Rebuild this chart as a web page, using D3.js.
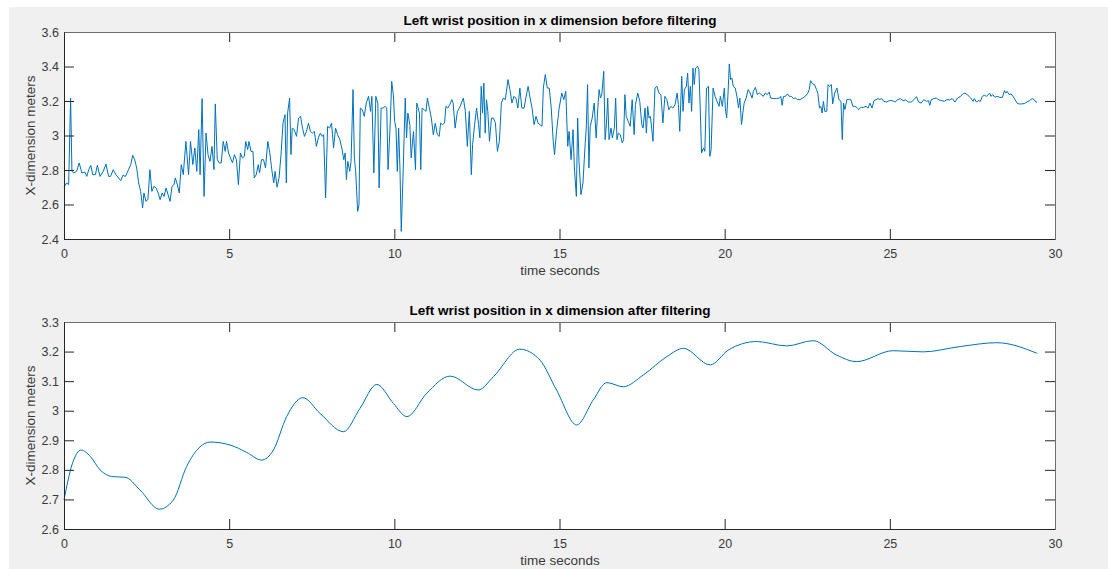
<!DOCTYPE html>
<html>
<head>
<meta charset="utf-8">
<script src="https://cdn.jsdelivr.net/npm/d3@7"></script>
<style>
  body { margin: 0; background: #fff; }
  svg { display: block; font-family: "Liberation Sans", Arial, sans-serif; }
  .tick text { fill: #3a3a3a; font-size: 12.5px; }
  .tick line { stroke: #262626; }
</style>
</head>
<body>
<div id="chart"></div>
<script>
// raw wrist position (seconds, meters)
const rawTime = [0.00, 0.08, 0.14, 0.20, 0.24, 0.30, 0.38, 0.46, 0.54, 0.63, 0.69, 0.75, 0.81, 0.87, 0.95, 1.01, 1.09, 1.19, 1.27, 1.35,
  1.41, 1.49, 1.57, 1.65, 1.72, 1.78, 1.86, 1.94, 2.02, 2.08, 2.14, 2.20, 2.26, 2.32, 2.38, 2.42, 2.48, 2.54, 2.60, 2.66,
  2.72, 2.79, 2.85, 2.91, 2.97, 3.03, 3.09, 3.15, 3.21, 3.27, 3.33, 3.37, 3.43, 3.49, 3.55, 3.61, 3.69, 3.77, 3.83, 3.90,
  3.96, 4.02, 4.08, 4.12, 4.18, 4.24, 4.30, 4.36, 4.42, 4.48, 4.54, 4.58, 4.64, 4.70, 4.76, 4.82, 4.88, 4.92, 4.98, 5.04,
  5.10, 5.16, 5.22, 5.28, 5.34, 5.40, 5.46, 5.50, 5.56, 5.60, 5.66, 5.72, 5.76, 5.82, 5.88, 5.92, 5.98, 6.04, 6.10, 6.17,
  6.23, 6.29, 6.35, 6.39, 6.45, 6.51, 6.57, 6.63, 6.69, 6.73, 6.77, 6.83, 6.87, 6.91, 6.97, 7.04, 7.10, 7.16, 7.22, 7.28,
  7.34, 7.40, 7.46, 7.52, 7.58, 7.64, 7.70, 7.76, 7.82, 7.86, 7.92, 7.98, 8.04, 8.10, 8.16, 8.22, 8.28, 8.35, 8.41, 8.47,
  8.51, 8.55, 8.59, 8.65, 8.69, 8.75, 8.79, 8.83, 8.89, 8.93, 8.97, 9.03, 9.09, 9.15, 9.22, 9.28, 9.32, 9.38, 9.44, 9.50,
  9.54, 9.60, 9.66, 9.72, 9.77, 9.81, 9.87, 9.92, 9.97, 10.01, 10.05, 10.09, 10.13, 10.17, 10.21, 10.27, 10.33, 10.37, 10.41, 10.47,
  10.51, 10.58, 10.64, 10.68, 10.72, 10.76, 10.80, 10.84, 10.90, 10.96, 11.00, 11.06, 11.12, 11.18, 11.24, 11.30, 11.36, 11.40, 11.46, 11.52,
  11.56, 11.62, 11.68, 11.74, 11.78, 11.84, 11.91, 11.97, 12.03, 12.09, 12.15, 12.21, 12.27, 12.33, 12.37, 12.43, 12.49, 12.55, 12.59, 12.63,
  12.67, 12.71, 12.75, 12.79, 12.83, 12.88, 12.94, 13.00, 13.06, 13.12, 13.18, 13.24, 13.30, 13.36, 13.44, 13.50, 13.56, 13.62, 13.68, 13.74,
  13.80, 13.86, 13.93, 13.99, 14.05, 14.11, 14.17, 14.23, 14.29, 14.35, 14.41, 14.47, 14.51, 14.57, 14.63, 14.69, 14.75, 14.81, 14.85, 14.91,
  14.99, 15.07, 15.13, 15.19, 15.25, 15.29, 15.35, 15.41, 15.45, 15.51, 15.55, 15.59, 15.65, 15.71, 15.77, 15.81, 15.85, 15.89, 15.93, 15.99,
  16.05, 16.11, 16.16, 16.20, 16.24, 16.28, 16.34, 16.38, 16.42, 16.46, 16.50, 16.56, 16.60, 16.66, 16.70, 16.74, 16.78, 16.84, 16.90, 16.94,
  16.98, 17.02, 17.08, 17.14, 17.20, 17.26, 17.30, 17.37, 17.43, 17.49, 17.53, 17.59, 17.63, 17.67, 17.71, 17.75, 17.79, 17.83, 17.89, 17.95,
  18.01, 18.07, 18.13, 18.19, 18.25, 18.31, 18.37, 18.43, 18.50, 18.56, 18.60, 18.64, 18.70, 18.74, 18.78, 18.84, 18.88, 18.92, 18.96, 19.00,
  19.04, 19.08, 19.12, 19.18, 19.22, 19.26, 19.30, 19.36, 19.40, 19.45, 19.51, 19.55, 19.59, 19.65, 19.71, 19.77, 19.83, 19.87, 19.93, 19.99,
  20.02, 20.06, 20.10, 20.14, 20.18, 20.22, 20.26, 20.32, 20.38, 20.42, 20.46, 20.51, 20.55, 20.59, 20.65, 20.71, 20.77, 20.83, 20.87, 20.93,
  20.99, 21.05, 21.11, 21.17, 21.23, 21.29, 21.35, 21.39, 21.47, 21.57, 21.66, 21.70, 21.74, 21.78, 21.84, 21.90, 21.96, 22.02, 22.08, 22.14,
  22.20, 22.28, 22.36, 22.44, 22.52, 22.56, 22.60, 22.66, 22.72, 22.78, 22.82, 22.87, 22.91, 22.95, 22.99, 23.03, 23.09, 23.13, 23.17, 23.23,
  23.27, 23.33, 23.40, 23.46, 23.52, 23.56, 23.60, 23.64, 23.70, 23.76, 23.82, 23.88, 23.94, 24.00, 24.06, 24.12, 24.20, 24.28, 24.34, 24.40,
  24.46, 24.52, 24.58, 24.64, 24.70, 24.76, 24.82, 24.90, 24.98, 25.08, 25.16, 25.24, 25.32, 25.40, 25.48, 25.56, 25.65, 25.73, 25.81, 25.87,
  25.95, 26.03, 26.11, 26.17, 26.21, 26.25, 26.33, 26.41, 26.49, 26.57, 26.65, 26.73, 26.81, 26.89, 26.97, 27.05, 27.13, 27.21, 27.27, 27.34,
  27.40, 27.46, 27.52, 27.56, 27.62, 27.68, 27.74, 27.80, 27.86, 27.92, 27.98, 28.02, 28.06, 28.12, 28.18, 28.24, 28.33, 28.41, 28.47, 28.51,
  28.55, 28.61, 28.67, 28.73, 28.79, 28.85, 28.91, 28.99, 29.07, 29.15, 29.23, 29.31, 29.37, 29.42, 29.46]

const rawPos = [2.700, 2.725, 2.715, 3.217, 2.792, 2.783, 2.792, 2.841, 2.783, 2.788, 2.763, 2.802, 2.827, 2.773, 2.773, 2.827, 2.763, 2.792, 2.835, 2.763,
  2.763, 2.802, 2.773, 2.754, 2.738, 2.769, 2.763, 2.796, 2.831, 2.885, 2.860, 2.812, 2.725, 2.676, 2.580, 2.667, 2.618, 2.628, 2.802, 2.676,
  2.705, 2.696, 2.667, 2.628, 2.667, 2.647, 2.696, 2.657, 2.618, 2.705, 2.715, 2.754, 2.715, 2.667, 2.831, 2.773, 2.966, 2.773, 2.966, 2.831,
  2.928, 2.792, 3.034, 2.773, 3.214, 2.647, 3.014, 2.889, 2.850, 2.937, 2.802, 3.183, 2.860, 2.841, 2.841, 2.966, 2.908, 2.966, 2.899, 2.870,
  2.841, 2.889, 2.860, 2.715, 2.899, 2.870, 2.879, 2.966, 2.918, 2.966, 2.908, 2.908, 2.754, 2.773, 2.831, 2.783, 2.860, 2.860, 2.812, 2.966,
  2.899, 2.802, 2.725, 2.792, 2.700, 2.754, 2.889, 3.072, 3.121, 2.725, 3.130, 3.217, 2.889, 3.043, 3.034, 2.995, 3.101, 3.111, 3.043, 2.995,
  3.024, 3.072, 3.024, 3.014, 3.024, 2.937, 2.986, 3.014, 2.995, 3.005, 2.638, 3.053, 3.043, 3.072, 2.928, 3.043, 3.005, 2.976, 2.928, 2.860,
  2.899, 2.744, 2.850, 2.792, 2.850, 3.266, 2.870, 2.792, 2.560, 2.599, 3.159, 3.150, 3.111, 3.188, 3.227, 3.140, 3.227, 2.783, 3.227, 3.188,
  2.696, 3.159, 3.159, 3.169, 3.159, 2.802, 3.043, 3.314, 3.237, 3.082, 3.043, 2.792, 3.043, 2.812, 2.444, 2.812, 3.217, 2.986, 3.130, 3.063,
  2.870, 3.024, 2.802, 3.188, 3.159, 3.130, 2.802, 3.159, 3.150, 3.140, 3.217, 3.159, 3.101, 3.005, 3.072, 3.005, 2.995, 3.072, 3.063, 3.072,
  3.169, 3.159, 3.179, 3.208, 3.188, 3.043, 3.140, 3.159, 3.188, 3.217, 3.140, 2.937, 3.140, 2.773, 2.947, 3.063, 3.159, 3.063, 2.986, 3.285,
  3.130, 3.304, 3.014, 3.208, 3.140, 2.966, 3.101, 3.101, 3.072, 2.908, 2.966, 3.188, 3.217, 3.208, 3.324, 3.266, 3.188, 3.227, 3.217, 3.159,
  3.275, 3.159, 3.159, 3.227, 3.285, 3.217, 3.159, 3.063, 3.111, 3.072, 3.063, 3.053, 3.275, 3.353, 3.275, 3.275, 3.159, 2.966, 2.889, 3.024,
  3.159, 3.246, 3.208, 3.256, 2.937, 3.024, 2.860, 3.034, 2.812, 2.647, 3.101, 2.850, 2.657, 2.725, 2.928, 3.043, 3.295, 2.812, 3.053, 3.101,
  3.188, 2.986, 3.159, 3.266, 3.217, 3.237, 3.372, 2.976, 3.063, 3.217, 2.976, 3.043, 2.986, 3.043, 3.217, 2.976, 3.014, 3.005, 2.957, 2.976,
  3.237, 3.111, 3.082, 3.053, 3.208, 3.005, 3.179, 3.246, 3.198, 3.063, 3.043, 3.159, 3.014, 3.169, 3.101, 3.111, 3.043, 2.966, 3.275, 3.285,
  3.246, 3.237, 3.072, 3.227, 3.208, 3.150, 3.169, 3.159, 3.179, 3.246, 3.179, 3.024, 3.343, 3.140, 3.266, 3.285, 3.362, 3.188, 3.285, 3.140,
  3.391, 3.295, 3.391, 3.401, 3.381, 3.159, 2.899, 2.928, 2.908, 3.275, 3.285, 2.879, 2.918, 3.275, 3.227, 3.198, 3.169, 3.227, 3.169, 3.275,
  3.159, 3.101, 3.237, 3.415, 3.324, 3.333, 3.285, 3.275, 3.217, 3.159, 3.217, 3.063, 3.130, 3.188, 3.217, 3.266, 3.246, 3.217, 3.256, 3.279,
  3.237, 3.246, 3.237, 3.227, 3.246, 3.237, 3.252, 3.217, 3.214, 3.214, 3.217, 3.227, 3.175, 3.227, 3.227, 3.241, 3.227, 3.227, 3.214, 3.217,
  3.208, 3.208, 3.217, 3.227, 3.246, 3.266, 3.318, 3.299, 3.295, 3.266, 3.246, 3.159, 3.169, 3.130, 3.198, 3.140, 3.140, 3.295, 3.285, 3.295,
  3.183, 3.246, 3.275, 3.208, 3.198, 2.976, 3.188, 3.150, 3.208, 3.208, 3.208, 3.169, 3.169, 3.163, 3.150, 3.163, 3.163, 3.169, 3.159, 3.188,
  3.159, 3.202, 3.208, 3.214, 3.208, 3.214, 3.198, 3.194, 3.202, 3.202, 3.194, 3.208, 3.214, 3.202, 3.206, 3.194, 3.194, 3.208, 3.225, 3.194,
  3.188, 3.208, 3.198, 3.202, 3.175, 3.206, 3.214, 3.217, 3.206, 3.202, 3.198, 3.208, 3.206, 3.214, 3.194, 3.217, 3.225, 3.241, 3.246, 3.237,
  3.227, 3.214, 3.198, 3.214, 3.194, 3.202, 3.198, 3.227, 3.233, 3.227, 3.237, 3.246, 3.227, 3.237, 3.221, 3.227, 3.221, 3.221, 3.260, 3.246,
  3.256, 3.237, 3.241, 3.227, 3.208, 3.188, 3.183, 3.183, 3.185, 3.194, 3.202, 3.214, 3.208, 3.194, 3.194]

// filtered wrist position (seconds, meters)
const filtTime = [0.00, 0.25, 0.52, 0.80, 1.09, 1.49, 1.85, 2.30, 2.88, 3.31, 3.71, 4.12, 4.42, 5.03, 5.53, 5.98, 6.34, 6.74, 7.23, 7.75,
  8.46, 8.96, 9.47, 9.97, 10.38, 10.98, 11.69, 12.54, 13.00, 13.80, 14.41, 14.91, 15.52, 16.02, 16.43, 16.93, 17.54, 18.25, 18.75, 19.56,
  20.11, 20.97, 21.88, 22.68, 23.39, 23.99, 25.10, 26.01, 27.13, 28.24, 29.46]
const filtPos = [2.698, 2.820, 2.867, 2.845, 2.800, 2.777, 2.775, 2.732, 2.667, 2.698, 2.811, 2.878, 2.894, 2.884, 2.859, 2.833, 2.867, 2.980, 3.044, 2.991,
  2.929, 3.008, 3.089, 3.025, 2.980, 3.059, 3.117, 3.070, 3.115, 3.208, 3.171, 3.070, 2.952, 3.036, 3.095, 3.081, 3.121, 3.183, 3.211, 3.155,
  3.205, 3.234, 3.219, 3.237, 3.188, 3.166, 3.203, 3.199, 3.217, 3.230, 3.194]

const xTicks = [0, 5, 10, 15, 20, 25, 30]
const rawTicks = [2.4, 2.6, 2.8, 3.0, 3.2, 3.4, 3.6]
const filtTicks = [2.6, 2.7, 2.8, 2.9, 3.0, 3.1, 3.2, 3.3]

const width = 1108
const height = 569

const svg = d3.select('#chart')
  .append('svg')
  .attr('width', width)
  .attr('height', height)

svg.append('rect')
  .attr('x', 9)
  .attr('y', 7)
  .attr('width', width - 9)
  .attr('height', height - 7)
  .attr('fill', '#f0f0f0')

const xScale = d3.scaleLinear().domain([0, 30]).range([64, 1055])

function drawPanel(cfg) {
  const yScale = d3.scaleLinear().domain(cfg.domain).range([cfg.bottom, cfg.top])
  const g = svg.append('g')

  g.append('rect')
    .attr('x', 64)
    .attr('y', cfg.top)
    .attr('width', 1055 - 64)
    .attr('height', cfg.bottom - cfg.top)
    .attr('fill', '#fff')

  const pts = cfg.time.map((t, i) => [t, cfg.pos[i]])
  const line = d3.line()
    .x(d => xScale(d[0]))
    .y(d => yScale(d[1]))
    .curve(cfg.curve)

  g.append('path')
    .datum(pts)
    .attr('d', line)
    .attr('fill', 'none')
    .attr('stroke', '#0072bd')
    .attr('stroke-width', 1)
    .attr('stroke-linejoin', 'round')

  // ticks point inward on all four sides, like matlab
  const fmt = d => d3.format('~g')(d)
  g.append('g')
    .attr('transform', 'translate(0,' + cfg.bottom + ')')
    .call(d3.axisBottom(xScale).tickValues(xTicks).tickSizeInner(-10).tickSizeOuter(0).tickPadding(10).tickFormat(fmt))
  g.append('g')
    .attr('transform', 'translate(0,' + cfg.top + ')')
    .call(d3.axisTop(xScale).tickValues(xTicks).tickSizeInner(-10).tickSizeOuter(0).tickFormat(''))
  g.append('g')
    .attr('transform', 'translate(64,0)')
    .call(d3.axisLeft(yScale).tickValues(cfg.ticks).tickSizeInner(-10).tickSizeOuter(0).tickPadding(5).tickFormat(fmt))
  g.append('g')
    .attr('transform', 'translate(1055,0)')
    .call(d3.axisRight(yScale).tickValues(cfg.ticks).tickSizeInner(-10).tickSizeOuter(0).tickFormat(''))
  g.selectAll('.domain').remove()
  g.selectAll('.tick text').attr('font-family', null).attr('font-size', null)

  // box
  g.append('path')
    .attr('d', `M64.5,${cfg.top + 0.5}H1055.5V${cfg.bottom + 0.5}`)
    .attr('fill', 'none')
    .attr('stroke', '#6e6e6e')
  g.append('path')
    .attr('d', `M64.5,${cfg.top + 0.5}V${cfg.bottom + 0.5}H1055.5`)
    .attr('fill', 'none')
    .attr('stroke', '#262626')

  g.append('text')
    .attr('x', 560)
    .attr('y', cfg.top - 7.5)
    .attr('text-anchor', 'middle')
    .attr('font-size', 13.5)
    .attr('font-weight', 'bold')
    .attr('fill', '#000')
    .text(cfg.title)

  g.append('text')
    .attr('x', 560)
    .attr('y', cfg.bottom + 35.5)
    .attr('text-anchor', 'middle')
    .attr('font-size', 13.5)
    .attr('fill', '#3a3a3a')
    .text('time seconds')

  g.append('text')
    .attr('transform', `translate(35,${(cfg.top + cfg.bottom) / 2}) rotate(-90)`)
    .attr('text-anchor', 'middle')
    .attr('font-size', 13.5)
    .attr('fill', '#3a3a3a')
    .text('X-dimension meters')
}

drawPanel({
  top: 32,
  bottom: 239,
  domain: [2.4, 3.6],
  ticks: rawTicks,
  time: rawTime,
  pos: rawPos,
  curve: d3.curveLinear,
  title: 'Left wrist position in x dimension before filtering'
})

drawPanel({
  top: 322,
  bottom: 529,
  domain: [2.6, 3.3],
  ticks: filtTicks,
  time: filtTime,
  pos: filtPos,
  curve: d3.curveMonotoneX,
  title: 'Left wrist position in x dimension after filtering'
})
</script>
</body>
</html>
